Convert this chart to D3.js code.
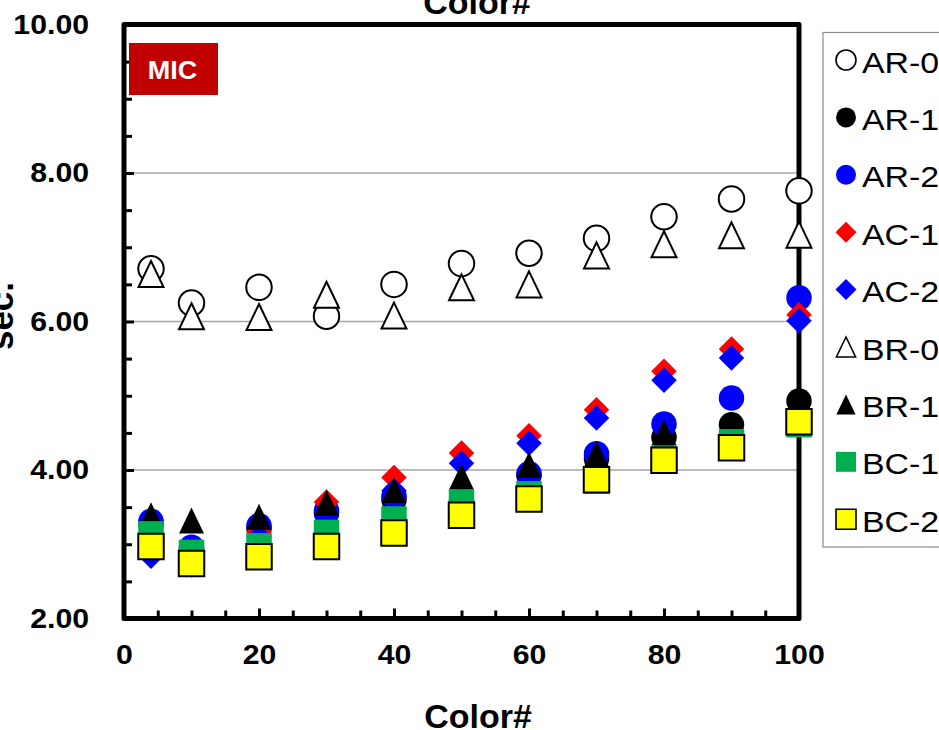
<!DOCTYPE html>
<html>
<head>
<meta charset="utf-8">
<script src="https://cdn.jsdelivr.net/npm/d3@7"></script>
<style>
  html, body { margin: 0; padding: 0; background: #fff; overflow: hidden; }
  svg { display: block; font-family: "Liberation Sans", Arial, Helvetica, sans-serif; }
</style>
</head>
<body>
<svg id="chart" width="939" height="730"></svg>
<script>
// Color# positions measured
const colorNums = [4, 10, 20, 30, 40, 50, 60, 70, 80, 90, 100];

// Times in seconds for each sample
const seriesNames = ["AR-0", "AR-1", "AR-2", "AC-1", "AC-2", "BR-0", "BR-1", "BC-1", "BC-2"];
const ar0 = [6.71, 6.25, 6.46, 6.07, 6.50, 6.78, 6.92, 7.12, 7.41, 7.65, 7.76];
const ar1 = [3.28, 2.93, 3.22, 3.42, 3.60, 3.56, 3.93, 4.15, 4.44, 4.61, 4.93];
const ar2 = [3.31, 2.96, 3.25, 3.45, 3.65, 3.58, 3.95, 4.22, 4.62, 4.97, 6.32];
const ac1 = [2.88, 2.72, 3.17, 3.57, 3.90, 4.23, 4.46, 4.81, 5.33, 5.63, 6.09];
const ac2 = [2.84, 2.80, 3.10, 3.38, 3.72, 4.09, 4.36, 4.70, 5.21, 5.51, 6.01];
const br0 = [6.64, 6.07, 6.06, 6.36, 6.08, 6.46, 6.50, 6.89, 7.04, 7.16, 7.17];
const br1 = [3.39, 3.32, 3.37, 3.56, 3.73, 3.91, 4.07, 4.22, 4.51, 4.35, 4.62];
const bc1 = [3.14, 2.89, 2.98, 3.16, 3.34, 3.57, 3.68, 3.85, 4.16, 4.38, 4.61];
const bc2 = [2.97, 2.74, 2.83, 2.97, 3.15, 3.39, 3.61, 3.87, 4.13, 4.30, 4.65];

// Axis ticks
const xTickValues = [0, 20, 40, 60, 80, 100];
const yTickValues = [2, 4, 6, 8, 10];
const yGridValues = [4, 6, 8];

const seriesValues = [ar0, ar1, ar2, ac1, ac2, br0, br1, bc1, bc2];
const seriesStyle = [
  { shape: "circle",   fill: "#ffffff", stroke: "#000000" },
  { shape: "circle",   fill: "#000000", stroke: "none" },
  { shape: "circle",   fill: "#0000ff", stroke: "none" },
  { shape: "diamond",  fill: "#ff0000", stroke: "none" },
  { shape: "diamond",  fill: "#0000ff", stroke: "none" },
  { shape: "triangle", fill: "#ffffff", stroke: "#000000" },
  { shape: "triangle", fill: "#000000", stroke: "none" },
  { shape: "square",   fill: "#00b050", stroke: "none" },
  { shape: "square",   fill: "#ffff00", stroke: "#000000" }
];

const svg = d3.select("#chart");

const plot = { left: 124, right: 799, top: 24.5, bottom: 618.5 };
const x = d3.scaleLinear().domain([0, 100]).range([plot.left, plot.right]);
const y = d3.scaleLinear().domain([2, 10]).range([plot.bottom, plot.top]);

// Text in this chart is slightly wide; stretch glyphs horizontally
const stretch = 1.08;

// Marker outline centred on its bounding box; s = box size in px
function markerPath(shape, s) {
  const h = s / 2;
  const p = d3.path();
  if (shape === "circle") {
    p.moveTo(h, 0); p.arc(0, 0, h, 0, 2 * Math.PI);
  } else if (shape === "square") {
    p.rect(-h, -h, s, s);
  } else if (shape === "diamond") {
    p.moveTo(0, -h); p.lineTo(h, 0); p.lineTo(0, h); p.lineTo(-h, 0); p.closePath();
  } else if (shape === "triangle") {
    const w = s * 0.96;
    p.moveTo(0, -h); p.lineTo(w / 2, h); p.lineTo(-w / 2, h); p.closePath();
  }
  return p.toString();
}

// Horizontal gridlines
svg.append("g")
  .selectAll("line")
  .data(yGridValues)
  .join("line")
  .attr("x1", plot.left).attr("x2", plot.right)
  .attr("y1", d => y(d)).attr("y2", d => y(d))
  .attr("stroke", "#a6a6a6")
  .attr("stroke-width", 1.5);

// Minor ticks
const yMinor = d3.range(2.5, 10, 0.5).filter(v => !yTickValues.includes(v));
const xMinor = d3.range(5, 100, 5).filter(v => !xTickValues.includes(v));

const yMinorAxis = svg.append("g")
  .attr("transform", `translate(${plot.left},0)`)
  .call(d3.axisLeft(y).tickValues(yMinor).tickSize(-8).tickFormat(""));
const xMinorAxis = svg.append("g")
  .attr("transform", `translate(0,${plot.bottom})`)
  .call(d3.axisBottom(x).tickValues(xMinor).tickSize(-8).tickFormat(""));
[yMinorAxis, xMinorAxis].forEach(g => {
  g.select(".domain").remove();
  g.selectAll(".tick line").attr("stroke", "#000").attr("stroke-width", 3);
});

// Major ticks with labels
const yAxis = svg.append("g")
  .attr("transform", `translate(${plot.left},0)`)
  .call(d3.axisLeft(y).tickValues(yTickValues).tickSize(-10).tickPadding(35)
    .tickFormat(d3.format(".2f")));
const xAxis = svg.append("g")
  .attr("transform", `translate(0,${plot.bottom})`)
  .call(d3.axisBottom(x).tickValues(xTickValues).tickSize(-10).tickPadding(26)
    .tickFormat(d3.format("d")));
[yAxis, xAxis].forEach(g => {
  g.select(".domain").remove();
  g.selectAll(".tick line").attr("stroke", "#000").attr("stroke-width", 3);
  g.selectAll(".tick text")
    .attr("fill", "#000")
    .style("font-size", "28px")
    .style("font-weight", "bold")
    .style("font-family", '"Liberation Sans", Arial, sans-serif');
});
yAxis.selectAll(".tick text")
  .attr("x", -35 / stretch)
  .attr("transform", `scale(${stretch},1)`);
xAxis.selectAll(".tick text")
  .attr("transform", `scale(${stretch},1)`);

// Plot frame
svg.append("rect")
  .attr("x", plot.left).attr("y", plot.top)
  .attr("width", plot.right - plot.left)
  .attr("height", plot.bottom - plot.top)
  .attr("fill", "none")
  .attr("stroke", "#000")
  .attr("stroke-width", 5)
  .attr("stroke-linejoin", "round");

// Data markers, one group per series in drawing order
seriesValues.forEach((vals, i) => {
  const st = seriesStyle[i];
  svg.append("g")
    .attr("class", "series")
    .selectAll("path")
    .data(vals.map((v, j) => ({ c: colorNums[j], v })))
    .join("path")
    .attr("transform", d => `translate(${x(d.c)},${y(d.v)})`)
    .attr("d", markerPath(st.shape, st.shape === "triangle" ? 26 : 25.5))
    .attr("fill", st.fill)
    .attr("stroke", st.stroke)
    .attr("stroke-width", st.stroke === "none" ? 0 : 2);
});

// Red badge
svg.append("rect")
  .attr("x", 129).attr("y", 43).attr("width", 89).attr("height", 52)
  .attr("fill", "#c00000");
svg.append("text")
  .attr("transform", `translate(172.5,79) scale(${stretch},1)`)
  .attr("text-anchor", "middle")
  .attr("fill", "#fff")
  .style("font-size", "25px").style("font-weight", "bold")
  .text("MIC");

// Titles
svg.append("text")
  .attr("x", 477).attr("y", 14)
  .attr("text-anchor", "middle")
  .style("font-size", "34px").style("font-weight", "bold")
  .text("Color#");
svg.append("text")
  .attr("x", 478).attr("y", 728)
  .attr("text-anchor", "middle")
  .style("font-size", "34px").style("font-weight", "bold")
  .text("Color#");
svg.append("text")
  .attr("transform", "translate(13,316) rotate(-90)")
  .attr("text-anchor", "middle")
  .style("font-size", "35px").style("font-weight", "bold")
  .text("sec.");

// Legend
const legend = svg.append("g");
legend.append("rect")
  .attr("x", 823).attr("y", 32.5).attr("width", 200).attr("height", 514.5)
  .attr("fill", "#fff")
  .attr("stroke", "#8c8c8c")
  .attr("stroke-width", 1.2);
const rowY = i => 60 + i * 57.4;
const items = legend.selectAll("g.item")
  .data(seriesNames)
  .join("g")
  .attr("class", "item")
  .attr("transform", (d, i) => `translate(0,${rowY(i)})`);
items.append("path")
  .attr("transform", "translate(846,0)")
  .attr("d", (d, i) => markerPath(seriesStyle[i].shape, seriesStyle[i].shape === "diamond" ? 21 : 20))
  .attr("fill", (d, i) => seriesStyle[i].fill)
  .attr("stroke", (d, i) => seriesStyle[i].stroke)
  .attr("stroke-width", (d, i) => seriesStyle[i].stroke === "none" ? 0 : 1.6);
items.append("text")
  .attr("transform", "translate(862,12.5) scale(1.13,1)")
  .style("font-size", "30px")
  .text(d => d);
</script>
</body>
</html>
